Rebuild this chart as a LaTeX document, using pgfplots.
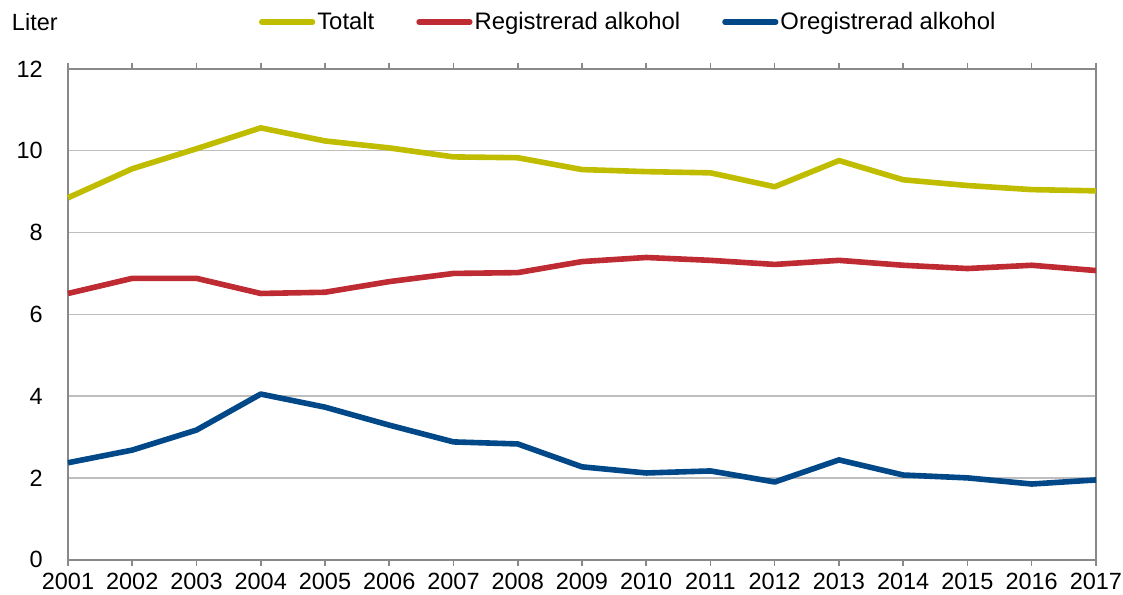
\documentclass[border=0pt]{standalone}
\usepackage{fontspec}
\setmainfont{Liberation Sans}
\usepackage{pgfplots}
\pgfplotsset{compat=1.18}
\definecolor{cTot}{RGB}{192,189,0}
\definecolor{cReg}{RGB}{190,43,50}
\definecolor{cOreg}{RGB}{0,72,135}
\definecolor{cAxis}{RGB}{137,137,137}
\definecolor{cGrid}{RGB}{190,190,190}
\begin{document}
\begin{tikzpicture}
\useasboundingbox (-51pt,-26.25pt) rectangle (791.25pt,419.75pt);
\begin{axis}[
  at={(0pt,0pt)}, anchor=south west,
  scale only axis,
  width=771pt, height=368pt,
  xmin=2001, xmax=2017,
  ymin=0, ymax=12,
  xtick={2001,...,2017},
  ytick={0,2,...,12},
  /pgf/number format/assume math mode=true,
  xticklabel={\pgfmathprintnumber[1000 sep={}]{\tick}},
  font=\fontsize{17.6}{20}\selectfont,
  ticklabel style={font=\fontsize{17.6}{20}\selectfont, inner sep=0pt},
  axis line style={cAxis, line width=1.3pt},
  ymajorgrids,
  grid style={cGrid, line width=1pt},
  xtick style={cAxis, line width=1.2pt},
  ytick style={draw=none},
  tick align=outside,
  major tick length=4.5pt,
  xticklabel style={yshift=-5.3pt},
  yticklabel style={xshift=-14.3pt},
  legend columns=3,
  legend style={draw=none, fill=none, inner sep=0pt, outer sep=0pt,
    at={(0.1858,1.0957)}, anchor=west,
    font=\fontsize{17.9}{20}\selectfont,
    nodes={inner xsep=1.5pt},
    /tikz/every even column/.append style={column sep=30pt}},
  legend image code/.code={\draw[#1, line cap=round] (0pt,0pt) -- (38pt,0pt);},
  clip=false,
]
\addplot[cTot, line width=4.2pt, line join=round] coordinates {
(2001,8.85) (2002,9.56) (2003,10.05) (2004,10.56) (2005,10.24) (2006,10.07)
(2007,9.85) (2008,9.83) (2009,9.54) (2010,9.49) (2011,9.46) (2012,9.12)
(2013,9.76) (2014,9.29) (2015,9.15) (2016,9.05) (2017,9.02)};
\addlegendentry{Totalt}
\addplot[cReg, line width=4.2pt, line join=round] coordinates {
(2001,6.51) (2002,6.88) (2003,6.88) (2004,6.51) (2005,6.54) (2006,6.80)
(2007,7.00) (2008,7.02) (2009,7.29) (2010,7.39) (2011,7.32) (2012,7.22)
(2013,7.32) (2014,7.20) (2015,7.12) (2016,7.20) (2017,7.07)};
\addlegendentry{Registrerad alkohol}
\addplot[cOreg, line width=4.2pt, line join=round] coordinates {
(2001,2.37) (2002,2.68) (2003,3.17) (2004,4.05) (2005,3.73) (2006,3.29)
(2007,2.88) (2008,2.83) (2009,2.27) (2010,2.12) (2011,2.17) (2012,1.90)
(2013,2.44) (2014,2.07) (2015,2.00) (2016,1.85) (2017,1.95)};
\addlegendentry{Oregistrerad alkohol}
\node[anchor=west, inner sep=0pt, font=\fontsize{17.6}{20}\selectfont] at (rel axis cs:0,1.0957) [xshift=-42.2pt] {Liter};
\end{axis}
\end{tikzpicture}
\end{document}
